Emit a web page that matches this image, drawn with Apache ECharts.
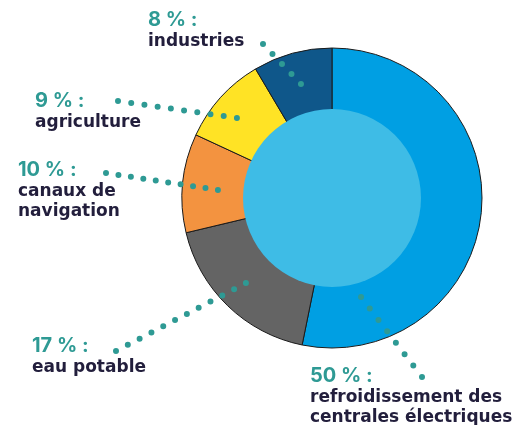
<!DOCTYPE html>
<html>
<head>
<meta charset="utf-8">
<script src="https://cdn.jsdelivr.net/npm/echarts@6/dist/echarts.min.js"></script>
<style>
  html, body { margin: 0; padding: 0; background: #fff; }
  #chart { width: 512px; height: 425px; }
</style>
</head>
<body>
<div id="chart"></div>
<script>
// parts, clockwise from the top
const names = ['refroidissement des\ncentrales électriques', 'eau potable', 'canaux de\nnavigation', 'agriculture', 'industries']
const values = [50, 17, 10, 9, 8]
const colors = ['#009FE3', '#646464', '#F39340', '#FFE325', '#0F578A']

// label boxes (top-left) and dotted leaders [inside point, outside point, dot count]
const labelPos = [[310, 364], [32, 334], [18, 158], [35, 89], [148, 8]]
const leaders = [
  [[361, 297], [422, 377], 8],
  [[246, 283], [116, 351], 12],
  [[218, 190], [106, 173], 10],
  [[237, 118], [118, 101], 10],
  [[301, 84], [263, 44], 5]
]

const chart = echarts.init(document.getElementById('chart'))

const option = {
  animation: false,
  graphic: leaders.map(l => {
    const len = Math.hypot(l[1][0] - l[0][0], l[1][1] - l[0][1])
    return {
      type: 'polyline',
      z: 100,
      silent: true,
      shape: { points: [l[1], l[0]] },
      style: {
        stroke: '#2E9A94',
        lineWidth: 6,
        lineDash: [0, len / (l[2] - 1) - 0.01],
        lineCap: 'round',
        fill: null
      }
    }
  }),
  series: [
    {
      type: 'pie',
      center: [332, 198],
      radius: [0, 150],
      startAngle: 90,
      clockwise: true,
      avoidLabelOverlap: false,
      silent: true,
      z: 2,
      itemStyle: { borderColor: '#1a1a1a', borderWidth: 1 },
      data: values.map((v, i) => ({
        value: v,
        name: names[i],
        itemStyle: { color: colors[i] }
      })),
      label: {
        show: true,
        position: 'outside',
        formatter: p => {
          const lines = p.name.split('\n').map(s => '{n|' + s + '}').join('\n')
          return '{p|' + p.value + ' % :}\n' + lines
        },
        rich: {
          p: { fontFamily: 'Inter', fontWeight: 700, fontSize: 20, lineHeight: 24, color: '#2E9A94' },
          n: { fontFamily: 'DejaVu Sans', fontWeight: 'bold', fontSize: 17, lineHeight: 20, color: '#221E3C' }
        }
      },
      labelLine: { show: false },
      labelLayout: params => ({
        x: labelPos[params.dataIndex][0],
        y: labelPos[params.dataIndex][1],
        align: 'left',
        verticalAlign: 'top'
      })
    },
    {
      type: 'pie',
      center: [332, 198],
      radius: [0, 89],
      silent: true,
      z: 3,
      label: { show: false },
      labelLine: { show: false },
      itemStyle: { color: '#3EBCE6' },
      data: [{ value: 1, name: '' }]
    }
  ]
}

chart.setOption(option)
window.onresize = () => {
  chart.resize()
}
</script>
</body>
</html>
